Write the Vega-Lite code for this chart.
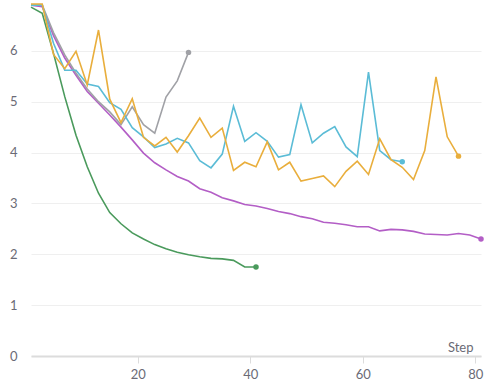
{
  "$schema": "https://vega.github.io/schema/vega-lite/v6.json",
  "width": 450,
  "height": 356,
  "autosize": "none",
  "padding": {"left": 31, "top": 0, "right": 10, "bottom": 29},
  "background": "white",
  "config": {
    "view": {"stroke": null},
    "font": "Lato"
  },
  "data": {"values": [
    {"run":"purple","step":1,"value":6.9},{"run":"purple","step":3,"value":6.87},{"run":"purple","step":5,"value":6.3},{"run":"purple","step":7,"value":5.86},{"run":"purple","step":9,"value":5.52},{"run":"purple","step":11,"value":5.2},{"run":"purple","step":13,"value":4.97},{"run":"purple","step":15,"value":4.74},{"run":"purple","step":17,"value":4.5},{"run":"purple","step":19,"value":4.25},{"run":"purple","step":21,"value":3.99},{"run":"purple","step":23,"value":3.8},{"run":"purple","step":25,"value":3.66},{"run":"purple","step":27,"value":3.53},{"run":"purple","step":29,"value":3.44},{"run":"purple","step":31,"value":3.29},{"run":"purple","step":33,"value":3.22},{"run":"purple","step":35,"value":3.11},{"run":"purple","step":37,"value":3.05},{"run":"purple","step":39,"value":2.98},{"run":"purple","step":41,"value":2.95},{"run":"purple","step":43,"value":2.9},{"run":"purple","step":45,"value":2.84},{"run":"purple","step":47,"value":2.8},{"run":"purple","step":49,"value":2.74},{"run":"purple","step":51,"value":2.7},{"run":"purple","step":53,"value":2.63},{"run":"purple","step":55,"value":2.61},{"run":"purple","step":57,"value":2.58},{"run":"purple","step":59,"value":2.54},{"run":"purple","step":61,"value":2.54},{"run":"purple","step":63,"value":2.46},{"run":"purple","step":65,"value":2.49},{"run":"purple","step":67,"value":2.48},{"run":"purple","step":69,"value":2.45},{"run":"purple","step":71,"value":2.4},{"run":"purple","step":73,"value":2.39},{"run":"purple","step":75,"value":2.38},{"run":"purple","step":77,"value":2.41},{"run":"purple","step":79,"value":2.38},{"run":"purple","step":81,"value":2.3},
    {"run":"green","step":1,"value":6.86},{"run":"green","step":3,"value":6.74},{"run":"green","step":5,"value":5.95},{"run":"green","step":7,"value":5.1},{"run":"green","step":9,"value":4.34},{"run":"green","step":11,"value":3.72},{"run":"green","step":13,"value":3.2},{"run":"green","step":15,"value":2.82},{"run":"green","step":17,"value":2.6},{"run":"green","step":19,"value":2.42},{"run":"green","step":21,"value":2.3},{"run":"green","step":23,"value":2.19},{"run":"green","step":25,"value":2.11},{"run":"green","step":27,"value":2.04},{"run":"green","step":29,"value":1.99},{"run":"green","step":31,"value":1.95},{"run":"green","step":33,"value":1.92},{"run":"green","step":35,"value":1.91},{"run":"green","step":37,"value":1.88},{"run":"green","step":39,"value":1.75},{"run":"green","step":41,"value":1.75},
    {"run":"gray","step":1,"value":6.9},{"run":"gray","step":3,"value":6.9},{"run":"gray","step":5,"value":6.36},{"run":"gray","step":7,"value":5.92},{"run":"gray","step":9,"value":5.56},{"run":"gray","step":11,"value":5.25},{"run":"gray","step":13,"value":5.0},{"run":"gray","step":15,"value":4.8},{"run":"gray","step":17,"value":4.55},{"run":"gray","step":19,"value":4.9},{"run":"gray","step":21,"value":4.55},{"run":"gray","step":23,"value":4.38},{"run":"gray","step":25,"value":5.09},{"run":"gray","step":27,"value":5.41},{"run":"gray","step":29,"value":5.97},
    {"run":"cyan","step":1,"value":6.9},{"run":"cyan","step":3,"value":6.9},{"run":"cyan","step":5,"value":6.15},{"run":"cyan","step":7,"value":5.62},{"run":"cyan","step":9,"value":5.62},{"run":"cyan","step":11,"value":5.35},{"run":"cyan","step":13,"value":5.3},{"run":"cyan","step":15,"value":4.98},{"run":"cyan","step":17,"value":4.85},{"run":"cyan","step":19,"value":4.49},{"run":"cyan","step":21,"value":4.31},{"run":"cyan","step":23,"value":4.1},{"run":"cyan","step":25,"value":4.17},{"run":"cyan","step":27,"value":4.28},{"run":"cyan","step":29,"value":4.19},{"run":"cyan","step":31,"value":3.84},{"run":"cyan","step":33,"value":3.7},{"run":"cyan","step":35,"value":3.97},{"run":"cyan","step":37,"value":4.91},{"run":"cyan","step":39,"value":4.22},{"run":"cyan","step":41,"value":4.39},{"run":"cyan","step":43,"value":4.22},{"run":"cyan","step":45,"value":3.91},{"run":"cyan","step":47,"value":3.96},{"run":"cyan","step":49,"value":4.94},{"run":"cyan","step":51,"value":4.19},{"run":"cyan","step":53,"value":4.38},{"run":"cyan","step":55,"value":4.51},{"run":"cyan","step":57,"value":4.11},{"run":"cyan","step":59,"value":3.92},{"run":"cyan","step":61,"value":5.58},{"run":"cyan","step":63,"value":4.04},{"run":"cyan","step":65,"value":3.86},{"run":"cyan","step":67,"value":3.82},
    {"run":"orange","step":1,"value":6.92},{"run":"orange","step":3,"value":6.92},{"run":"orange","step":5,"value":5.93},{"run":"orange","step":7,"value":5.65},{"run":"orange","step":9,"value":5.99},{"run":"orange","step":11,"value":5.33},{"run":"orange","step":13,"value":6.41},{"run":"orange","step":15,"value":5.05},{"run":"orange","step":17,"value":4.59},{"run":"orange","step":19,"value":5.06},{"run":"orange","step":21,"value":4.3},{"run":"orange","step":23,"value":4.13},{"run":"orange","step":25,"value":4.3},{"run":"orange","step":27,"value":4.01},{"run":"orange","step":29,"value":4.33},{"run":"orange","step":31,"value":4.68},{"run":"orange","step":33,"value":4.3},{"run":"orange","step":35,"value":4.48},{"run":"orange","step":37,"value":3.65},{"run":"orange","step":39,"value":3.81},{"run":"orange","step":41,"value":3.72},{"run":"orange","step":43,"value":4.21},{"run":"orange","step":45,"value":3.66},{"run":"orange","step":47,"value":3.81},{"run":"orange","step":49,"value":3.44},{"run":"orange","step":51,"value":3.49},{"run":"orange","step":53,"value":3.54},{"run":"orange","step":55,"value":3.33},{"run":"orange","step":57,"value":3.63},{"run":"orange","step":59,"value":3.83},{"run":"orange","step":61,"value":3.57},{"run":"orange","step":63,"value":4.27},{"run":"orange","step":65,"value":3.86},{"run":"orange","step":67,"value":3.71},{"run":"orange","step":69,"value":3.47},{"run":"orange","step":71,"value":4.04},{"run":"orange","step":73,"value":5.49},{"run":"orange","step":75,"value":4.31},{"run":"orange","step":77,"value":3.93}
  ]},
  "encoding": {
    "x": {
      "field": "step", "type": "quantitative",
      "scale": {"domain": [1, 81], "nice": false, "zero": false},
      "axis": {
        "values": [20, 40, 60, 80],
        "grid": false,
        "domainColor": "#dcdcdc", "domainWidth": 2,
        "tickColor": "#dcdcdc", "tickSize": 7, "tickWidth": 1,
        "labelFont": "Lato", "labelFontSize": 13, "labelColor": "#6b6b76", "labelPadding": 5,
        "title": "Step", "titleFont": "Lato", "titleFontSize": 13, "titleFontWeight": "normal", "titleColor": "#6b6b76",
        "titleAnchor": null, "titleAlign": "right", "titleBaseline": "alphabetic",
        "titleX": 442, "titleY": -5
      }
    },
    "y": {
      "field": "value", "type": "quantitative",
      "scale": {"domain": [0, 7], "nice": false},
      "axis": {
        "values": [0, 1, 2, 3, 4, 5, 6],
        "domain": false, "ticks": false, "tickSize": 0,
        "gridColor": "#efefef", "gridWidth": 1,
        "labelFont": "Lato", "labelFontSize": 13, "labelColor": "#6b6b76", "labelPadding": 14,
        "title": null
      }
    },
    "color": {
      "field": "run", "type": "nominal",
      "scale": {
        "domain": ["green", "gray", "cyan", "orange", "purple"],
        "range": ["#4a9a5c", "#a0a1a6", "#5bbcd6", "#e9ae3c", "#b35ec6"]
      },
      "legend": null
    }
  },
  "layer": [
    {
      "mark": {"type": "line", "strokeWidth": 1.6, "interpolate": "linear"},
      "encoding": {"detail": {"field": "run"}}
    },
    {
      "transform": [
        {"joinaggregate": [{"op": "max", "field": "step", "as": "maxstep"}], "groupby": ["run"]},
        {"filter": "datum.step === datum.maxstep"}
      ],
      "mark": {"type": "point", "filled": true, "opacity": 1, "size": 30}
    }
  ]
}
